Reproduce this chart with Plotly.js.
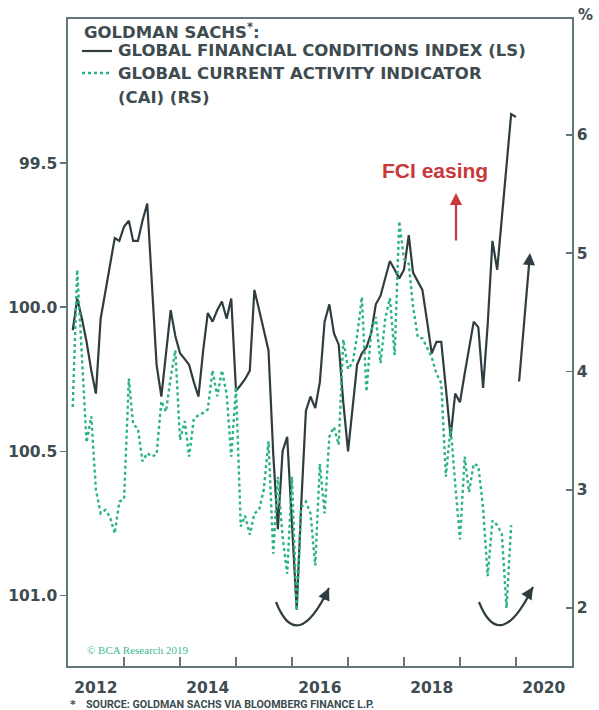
<!DOCTYPE html>
<html><head><meta charset="utf-8">
<script src="https://cdn.plot.ly/plotly-3.0.1.min.js"></script>
<style>html,body{margin:0;padding:0;background:#fff}#chart{width:599px;height:710px}</style>
</head><body><div id="chart"></div>
<script>
// Monthly dates (first of month), Feb 2012 .. Jan 2020
const months = [
  '2012-02','2012-03','2012-04','2012-05','2012-06','2012-07','2012-08','2012-09','2012-10','2012-11','2012-12',
  '2013-01','2013-02','2013-03','2013-04','2013-05','2013-06','2013-07','2013-08','2013-09','2013-10','2013-11','2013-12',
  '2014-01','2014-02','2014-03','2014-04','2014-05','2014-06','2014-07','2014-08','2014-09','2014-10','2014-11','2014-12',
  '2015-01','2015-02','2015-03','2015-04','2015-05','2015-06','2015-07','2015-08','2015-09','2015-10','2015-11','2015-12',
  '2016-01','2016-02','2016-03','2016-04','2016-05','2016-06','2016-07','2016-08','2016-09','2016-10','2016-11','2016-12',
  '2017-01','2017-02','2017-03','2017-04','2017-05','2017-06','2017-07','2017-08','2017-09','2017-10','2017-11','2017-12',
  '2018-01','2018-02','2018-03','2018-04','2018-05','2018-06','2018-07','2018-08','2018-09','2018-10','2018-11','2018-12',
  '2019-01','2019-02','2019-03','2019-04','2019-05','2019-06','2019-07','2019-08','2019-09','2019-10','2019-11','2019-12',
  '2020-01'
];
// Goldman Sachs Global Financial Conditions Index (left scale, inverted)
const fci = [
  100.08, 99.97, 100.04, 100.12, 100.22, 100.30, 100.04, 99.95, 99.85, 99.76, 99.77,
  99.72, 99.70, 99.77, 99.77, 99.70, 99.64, 99.93, 100.20, 100.31, 100.17, 100.01, 100.10,
  100.16, 100.18, 100.20, 100.26, 100.31, 100.15, 100.02, 100.05, 100.01, 99.98, 100.04, 99.97,
  100.29, 100.27, 100.25, 100.22, 99.94, 100.01, 100.08, 100.15, 100.51, 100.77, 100.50, 100.45,
  100.75, 101.05, 100.69, 100.36, 100.31, 100.35, 100.26, 100.05, 99.99, 100.09, 100.13, 100.33,
  100.50, 100.34, 100.20, 100.16, 100.14, 100.09, 99.99, 99.96, 99.90, 99.84, 99.87, 99.90,
  99.87, 99.75, 99.88, 99.91, 99.94, 100.05, 100.16, 100.12, 100.12, 100.28, 100.45, 100.30,
  100.33, 100.23, 100.14, 100.05, 100.07, 100.28, 100.06, 99.77, 99.87, 99.69, 99.51, 99.33,
  99.34
];
// Goldman Sachs Global Current Activity Indicator, % (right scale), Feb 2012 .. Dec 2019
const cai = [
  3.70, 4.86, 4.12, 3.40, 3.62, 3.00, 2.80, 2.83, 2.77, 2.63, 2.90,
  2.92, 3.94, 3.55, 3.52, 3.24, 3.31, 3.28, 3.30, 3.75, 3.66, 3.95, 4.18,
  3.42, 3.58, 3.28, 3.60, 3.63, 3.65, 3.68, 4.01, 3.79, 4.01, 3.81, 3.28,
  3.87, 2.69, 2.78, 2.62, 2.80, 2.83, 3.00, 3.41, 2.46, 3.11, 2.60, 2.29,
  3.11, 1.98, 2.85, 2.90, 2.80, 2.36, 3.22, 2.80, 3.45, 3.53, 3.38, 4.27,
  4.02, 4.08, 4.30, 4.63, 3.83, 4.35, 4.46, 4.07, 4.45, 4.62, 4.14, 5.27,
  4.95, 4.91, 4.55, 4.29, 4.28, 4.20, 4.12, 3.98, 3.90, 3.11, 3.53, 3.05,
  2.58, 3.28, 2.98, 3.22, 3.20, 2.85, 2.27, 2.74, 2.70, 2.63, 2.00, 2.70
];
const seriesNames = ['GLOBAL FINANCIAL CONDITIONS INDEX (LS)', 'GLOBAL CURRENT ACTIVITY INDICATOR', '(CAI) (RS)'];
const legendTitle = 'GOLDMAN SACHS<sup>*</sup>:';
const yearLabelVals = ['2012-07-01','2014-07-01','2016-07-01','2018-07-01','2020-07-01'];
const yearLabelText = ['2012','2014','2016','2018','2020'];
const yearTickVals = ['2013-01-01','2014-01-01','2015-01-01','2016-01-01','2017-01-01','2018-01-01','2019-01-01','2020-01-01'];
const fciTickVals = [99.5, 100.0, 100.5, 101.0];
const fciTickText = ['99.5','100.0','100.5','101.0'];
const caiTickVals = [2, 3, 4, 5, 6];

const W = 599, H = 710, ML = 68, MR = 27, MT = 19, MB = 44;
const PW = W - ML - MR, PH = H - MT - MB;
const px = x => (x - ML) / PW;
const py = y => (H - MB - y) / PH;

const INK = '#3e4b50';
const AXIS = '#62767c';
const GREEN = '#2bb383';
const DARK = '#2f3d41';
const RED = '#c8383b';
const SANS = 'DejaVu Sans, Lato, sans-serif';
const LEGFONT = {family: SANS, size: 16.5, color: INK, weight: 700};

const traces = [
  {x: months.slice(0, fci.length), y: fci, type: 'scatter', mode: 'lines', yaxis: 'y',
   name: seriesNames[0], line: {color: DARK, width: 2.2}},
  {x: months.slice(0, cai.length), y: cai, type: 'scatter', mode: 'lines', yaxis: 'y2',
   name: seriesNames[1] + ' ' + seriesNames[2], line: {color: GREEN, width: 2.4, dash: 'dot'}}
];

function curve(x0, y0, cx, cy, x1, y1) {
  return {type: 'path', xref: 'paper', yref: 'paper',
    path: `M ${px(x0)},${py(y0)} Q ${px(cx)},${py(cy)} ${px(x1)},${py(y1)}`,
    line: {color: DARK, width: 2.2}};
}
function sample(y, color, width, dash) {
  return {type: 'line', xref: 'paper', yref: 'paper', x0: px(82), x1: px(112), y0: py(y), y1: py(y),
    line: {color: color, width: width, dash: dash}};
}
function head(x, y, ax, ay, color) {
  return {x: px(x), y: py(y), xref: 'paper', yref: 'paper', ax: ax, ay: ay, axref: 'pixel', ayref: 'pixel',
    text: '', showarrow: true, arrowhead: 2, arrowsize: 1.1, arrowwidth: 2.2, arrowcolor: color, standoff: 0};
}
function label(x, y, text, font, xanchor) {
  return {x: px(x), y: py(y), xref: 'paper', yref: 'paper', text: text, showarrow: false,
    xanchor: xanchor || 'center', yanchor: 'middle', font: font};
}

const layout = {
  width: W, height: H,
  margin: {l: ML, r: MR, t: MT, b: MB, pad: 0},
  paper_bgcolor: '#fff', plot_bgcolor: '#fff',
  showlegend: false,
  xaxis: {
    type: 'date', range: ['2012-01-01', '2021-01-01'],
    tickmode: 'array', tickvals: yearLabelVals, ticktext: yearLabelText,
    ticks: '', ticklabelstandoff: 7,
    tickfont: {family: SANS, size: 15.5, color: INK, weight: 700},
    showline: true, linecolor: AXIS, linewidth: 1.6, mirror: true,
    showgrid: false, zeroline: false,
    minor: {tickmode: 'array', tickvals: yearTickVals, ticks: 'inside', ticklen: 9, tickwidth: 1.5, tickcolor: AXIS, showgrid: false}
  },
  yaxis: {
    range: [101.245, 99.0], tickmode: 'array', tickvals: fciTickVals, ticktext: fciTickText,
    ticks: 'outside', ticklen: 6, tickwidth: 1.5, tickcolor: AXIS,
    tickfont: {family: SANS, size: 15.5, color: INK, weight: 700},
    showline: true, linecolor: AXIS, linewidth: 1.6, showgrid: false, zeroline: false
  },
  yaxis2: {
    overlaying: 'y', side: 'right', range: [1.51, 6.98], tickmode: 'array', tickvals: caiTickVals,
    ticks: 'inside', ticklen: 6, tickwidth: 1.5, tickcolor: AXIS,
    tickfont: {family: SANS, size: 15.5, color: INK, weight: 700},
    showline: true, linecolor: AXIS, linewidth: 1.6, showgrid: false, zeroline: false
  },
  shapes: [
    curve(276, 602, 297, 655, 329, 588),
    curve(479, 602, 500, 655, 533, 587),
    sample(51, DARK, 2.2, 'solid'),
    sample(73, GREEN, 2.4, 'dot')
  ],
  annotations: [
    label(82, 31, legendTitle, LEGFONT, 'left'),
    label(116, 51, seriesNames[0], LEGFONT, 'left'),
    label(116, 74, seriesNames[1], LEGFONT, 'left'),
    label(116, 97, seriesNames[2], LEGFONT, 'left'),
    label(435, 170, 'FCI easing', {family: 'Liberation Sans, Arial, sans-serif', size: 21, color: RED, weight: 700}),
    head(456, 193, 0, 49, RED),
    head(530, 253, -11, 130, DARK),
    head(329, 588, -6, 13, DARK),
    head(533, 587, -7, 11, DARK),
    label(585, 15, '%', {family: SANS, size: 15, color: INK, weight: 700}),
    label(85, 650, '© BCA Research 2019', {family: 'Liberation Serif, DejaVu Serif, serif', size: 11, color: '#3dba8f'}, 'left'),
    label(68, 704, '*', {family: SANS, size: 11, color: INK, weight: 700}, 'left'),
    label(84, 704, 'SOURCE: GOLDMAN SACHS VIA BLOOMBERG FINANCE L.P.', {family: 'Roboto, Lato, sans-serif', size: 10.7, color: INK, weight: 700}, 'left')
  ]
};

Plotly.newPlot('chart', traces, layout, {displayModeBar: false, staticPlot: true});
</script>
</body></html>
